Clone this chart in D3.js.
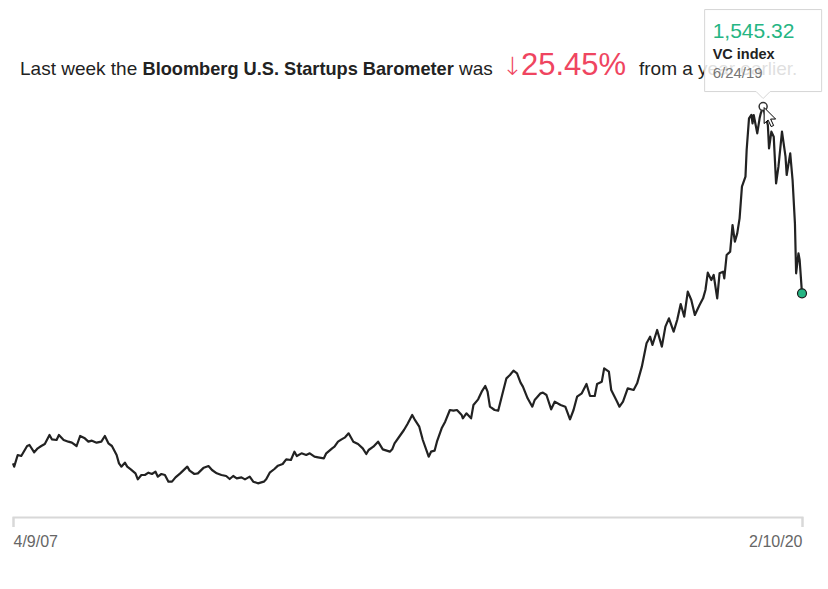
<!DOCTYPE html>
<html>
<head>
<meta charset="utf-8">
<script src="https://cdn.jsdelivr.net/npm/d3@7"></script>
<style>
  html, body { margin: 0; padding: 0; background: #fff; }
  svg { display: block; font-family: "Liberation Sans", Arial, sans-serif; }
</style>
</head>
<body>
<svg class="svg" width="828" height="589"></svg>
<script>
// weekly index (weeks after 4/9/07)
const startDate = new Date(2007, 3, 9);
const endDate = new Date(2020, 1, 10);

const weekOffsets = [
  0, 1, 4, 7, 12, 14, 18, 21, 24, 27, 31, 33, 37, 39, 43, 47, 50, 54, 57, 61,
  64, 67, 71, 75, 78, 81, 84, 88, 90, 92, 95, 97, 100, 104, 106, 109, 112, 115, 118, 121,
  123, 126, 129, 132, 135, 138, 142, 148, 150, 154, 157, 162,
  166, 169, 173, 177, 181, 184, 187, 190, 194, 197, 201, 204, 208, 213, 215, 218, 222, 225, 229, 232,
  236, 239, 241, 245, 249, 252, 256, 259, 264, 266, 271, 273, 276, 279, 282, 285, 289, 293, 297, 300,
  302, 306, 310, 314, 320, 322, 324,
  329, 332, 335, 339, 341, 345, 348, 353, 355, 358, 360, 364, 367, 371, 374, 377, 381, 382, 385, 389,
  391, 395, 398, 401, 403, 405, 409, 412, 415, 419, 422, 425, 428, 431, 433, 437, 441, 443, 448, 450,
  453, 457, 460, 465, 469, 473, 476, 479, 483, 487, 490, 494, 496, 500, 502, 506, 508, 513, 515, 518,
  522, 527, 530,
  534, 538, 541, 543, 547, 551, 554, 557, 561, 564, 567, 570, 573, 576, 579, 583, 586, 588, 590, 593,
  595, 598, 600, 603, 604, 606, 609, 611, 613, 615, 617,
  619, 622, 623, 625, 627, 628, 629, 632, 634, 635, 637, 639, 641, 642, 644, 646, 648, 650, 653, 656,
  657, 660, 662, 664, 665, 667, 668, 670
];

const vcIndex = [
  475, 465, 500, 497, 527, 530, 508, 520, 527, 533, 560, 547, 545, 560, 545, 540, 537, 527, 557, 550,
  540, 543, 537, 540, 557, 535, 527, 500, 475, 465, 477, 465, 457, 445, 427, 440, 440, 447, 443, 450,
  435, 443, 440, 420, 420, 433, 445, 465, 453, 443, 445, 462,
  467, 455, 445, 440, 437, 428, 437, 430, 433, 427, 435, 420, 415, 420, 427, 447, 458, 468, 473, 487,
  485, 510, 497, 505, 500, 505, 495, 493, 490, 505, 520, 525, 540, 547, 553, 565, 540, 533, 520, 503,
  515, 525, 540, 517, 510, 517, 535,
  560, 575, 593, 620, 607, 585, 545, 495, 510, 513, 540, 580, 600, 635, 633, 635, 620, 610, 625, 610,
  650, 667, 690, 707, 690, 645, 635, 633, 675, 730, 740, 753, 745, 717, 705, 670, 645, 665, 685, 687,
  680, 637, 660, 650, 645, 607, 635, 675, 685, 713, 677, 677, 713, 720, 760, 750, 695, 660, 645, 660,
  700, 695, 715,
  765, 835, 855, 830, 875, 825, 885, 910, 870, 905, 953, 915, 990, 965, 920, 950, 970, 995, 1047, 1025,
  1040, 970, 1045, 1050, 1030, 1100, 1110, 1190, 1140, 1165, 1210,
  1305, 1335, 1415, 1510, 1520, 1495, 1520, 1465, 1510, 1525, 1545.32, 1515, 1490, 1420, 1470, 1455, 1315, 1365, 1470, 1395,
  1340, 1405, 1325, 1195, 1045, 1105, 1085, 985
];

const seriesName = "VC index";
const changeArrow = "↓";
const changeText = "25.45%";
const tickDates = [startDate, endDate];

const lineColor = "#222";
const green = "#25b583";
const red = "#ef4560";

const data = weekOffsets.map((w, i) => ({ date: d3.timeWeek.offset(startDate, w), value: vcIndex[i] }));

const svg = d3.select('.svg');

const x = d3.scaleTime().domain([startDate, endDate]).range([13, 802]);
const y = d3.scaleLinear().domain([380, 1565]).range([495, 100]);

const fmtDate = d3.timeFormat("%-m/%-d/%y");
const fmtValue = d3.format(",.2f");

// headline sentence
const head = svg.append('text')
  .attr('x', 20)
  .attr('y', 75)
  .attr('font-size', 19)
  .attr('fill', '#222');
head.append('tspan').text("Last week the ");
head.append('tspan').attr('font-weight', 'bold').attr('font-size', 18.2).text("Bloomberg U.S. Startups Barometer");
head.append('tspan').text(" was");
head.append('tspan').attr('x', 502).attr('font-family', '"DejaVu Sans", sans-serif').attr('font-weight', 200)
  .attr('font-size', 25).attr('fill', red).text(changeArrow);
head.append('tspan').attr('x', 521).attr('font-size', 31).attr('fill', red).text(changeText);
head.append('tspan').attr('x', 639).text("from a year earlier.");

// x axis
const axis = svg.append('g')
  .attr('transform', 'translate(0,517)')
  .call(d3.axisBottom(x).tickValues(tickDates).tickFormat(fmtDate).tickSize(10).tickSizeOuter(10).tickPadding(9));
axis.select('.domain').attr('stroke', '#d8d8d8').attr('stroke-width', 2);
axis.selectAll('.tick line').attr('stroke', '#d8d8d8').attr('stroke-width', 2);
axis.selectAll('.tick text')
  .attr('font-size', 16)
  .attr('font-family', '"Liberation Sans", Arial, sans-serif')
  .attr('fill', '#666')
  .attr('text-anchor', (d, i) => i === 0 ? 'start' : 'end');

// line
const line = d3.line().x(d => x(d.date)).y(d => y(d.value));
svg.append('path')
  .datum(data)
  .attr('d', line)
  .attr('fill', 'none')
  .attr('stroke', lineColor)
  .attr('stroke-width', 2.2)
  .attr('stroke-linejoin', 'round');

// last point
const last = data[data.length - 1];
svg.append('circle')
  .attr('cx', x(last.date))
  .attr('cy', y(last.value))
  .attr('r', 4.5)
  .attr('fill', green)
  .attr('stroke', '#1a1a1a')
  .attr('stroke-width', 1.2);

// hovered point (peak)
const peak = data[d3.maxIndex(data, d => d.value)];
const px = x(peak.date), py = y(peak.value);
svg.append('circle')
  .attr('cx', px)
  .attr('cy', py)
  .attr('r', 4)
  .attr('fill', '#fff')
  .attr('stroke', '#333')
  .attr('stroke-width', 1.5);

// tooltip
const tipW = 117, tipH = 82;
const tip = svg.append('g').attr('transform', `translate(${px - tipW / 2},${py - tipH - 15})`);
tip.append('path')
  .attr('d', `M0,0H${tipW}V${tipH}H${tipW / 2 + 7}L${tipW / 2},${tipH + 7}L${tipW / 2 - 7},${tipH}H0Z`)
  .attr('fill', 'rgba(255,255,255,0.86)')
  .attr('stroke', '#d6d6d6')
  .attr('stroke-width', 1);
tip.append('text').attr('x', 8).attr('y', 28).attr('font-size', 21).attr('fill', green).text(fmtValue(peak.value));
tip.append('text').attr('x', 8).attr('y', 49).attr('font-size', 14.5).attr('font-weight', 'bold').attr('fill', '#222').text(seriesName);
tip.append('text').attr('x', 8).attr('y', 68).attr('font-size', 15).attr('fill', '#777').text(fmtDate(peak.date));

// mouse pointer
svg.append('path')
  .attr('transform', `translate(${px + 1},${py + 1})`)
  .attr('d', 'M0,0V16L4,12.5L7,19L9.5,18L6.5,11.5H11.5Z')
  .attr('fill', '#fff')
  .attr('stroke', '#000')
  .attr('stroke-width', 1)
  .attr('stroke-linejoin', 'round');
</script>
</body>
</html>
